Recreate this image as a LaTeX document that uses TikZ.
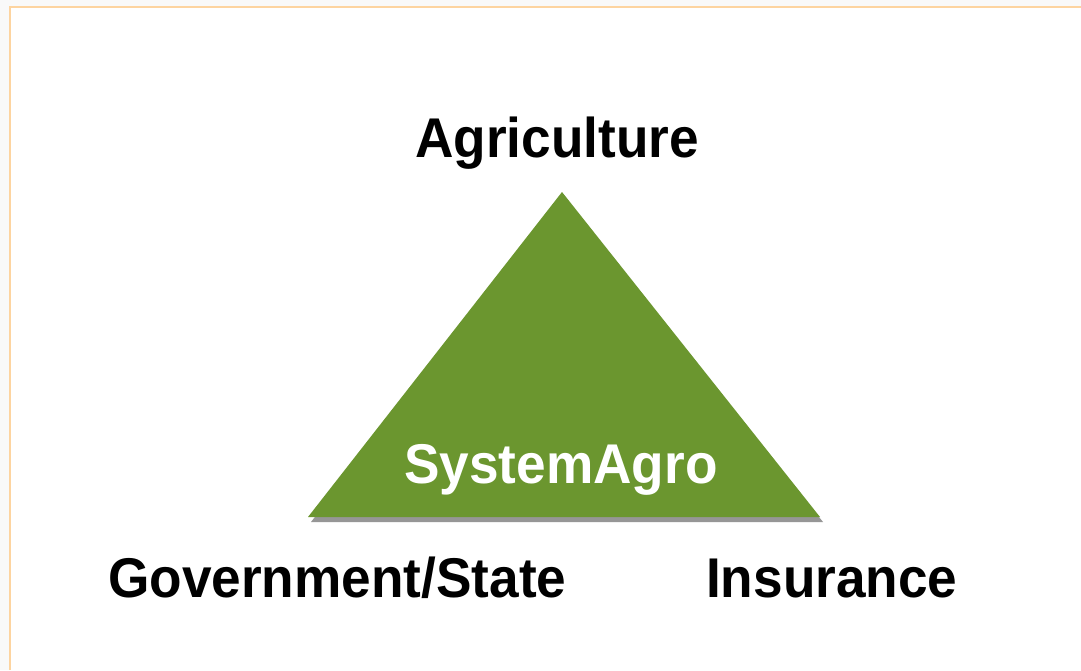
\documentclass[tikz,border=0pt]{standalone}
\usepackage{fontspec}
\setmainfont{Liberation Sans}
\newfontfamily\labelfont[FakeStretch=0.95]{Liberation Sans}
\definecolor{pagegray}{RGB}{249,249,249}
\definecolor{frameorange}{RGB}{253,212,160}
\definecolor{agrogreen}{RGB}{107,150,47}
\definecolor{shadowgray}{RGB}{150,150,150}
\begin{document}
\begin{tikzpicture}[x=1pt,y=-1pt,
  label/.style={font=\labelfont\bfseries\fontsize{56}{60}\selectfont, inner sep=0pt, anchor=base},
  inner/.style={font=\labelfont\bfseries\fontsize{56}{60}\selectfont, inner sep=0pt, anchor=base, text=white},
  drop/.style={xshift=3pt, yshift=-5pt}]
  % page and frame
  \fill[pagegray] (0,0) rectangle (1081,670);
  \useasboundingbox (0,0) rectangle (1081,670);
  \fill[white] (10,7) rectangle (1081,670);
  \draw[frameorange, line width=2.2pt] (10,670) -- (10,7) -- (1081,7);
  % triangle corners
  \coordinate (top) at (562,192);
  \coordinate (bl) at (308,517);
  \coordinate (br) at (820,517);
  % drop shadow
  \fill[shadowgray] ([drop]top) -- ([drop]br) -- ([drop]bl) -- cycle;
  \fill[agrogreen] (top) -- (br) -- (bl) -- cycle;
  % labels
  \node[label] (agri) at (557,157) {Agriculture};
  \node[label, anchor=base west] (gov) at (108,597) {Government/State};
  \node[label, anchor=base west] (ins) at (706,597) {Insurance};
  \node[inner] (sys) at (561,483) {SystemAgro};
\end{tikzpicture}
\end{document}
